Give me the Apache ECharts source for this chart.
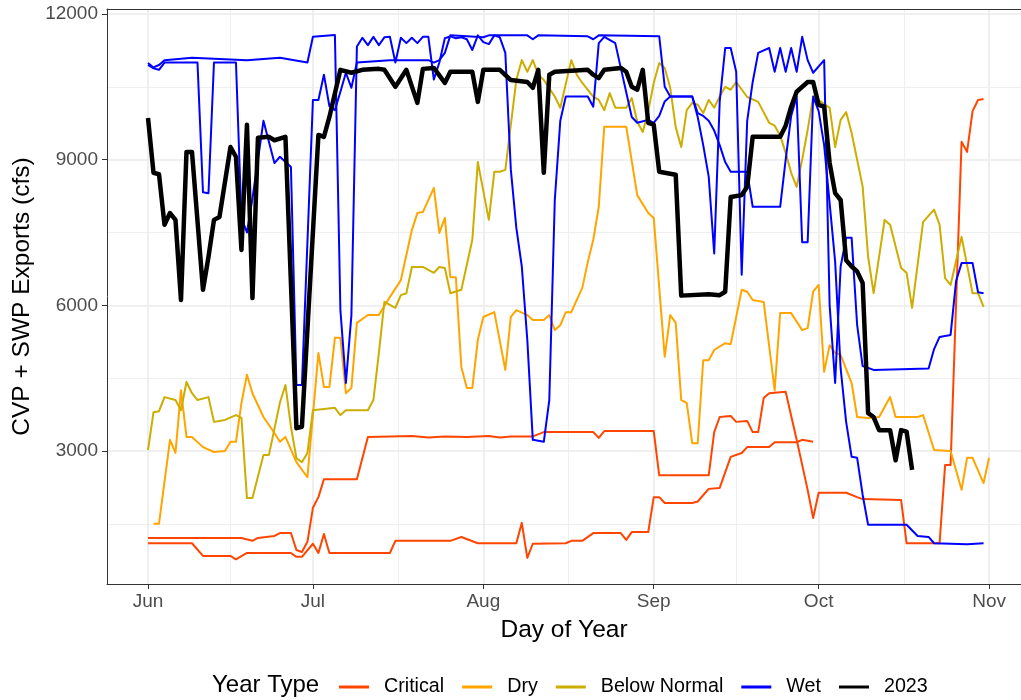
<!DOCTYPE html>
<html><head><meta charset="utf-8">
<script src="https://cdn.jsdelivr.net/npm/echarts@6/dist/echarts.min.js"></script>
<style>html,body{margin:0;padding:0;background:#fff}#c{width:1021px;height:700px}</style>
</head><body><div id="c"></div>
<script>
const monthTicks = [152,182,213,244,274,305];
const monthLabels = ['Jun','Jul','Aug','Sep','Oct','Nov'];
const monthMinor = [167,197.5,228.5,259,289.5];
const yTicks = [3000,6000,9000,12000];
const yMinor = [1500,4500,7500,10500];
const yearTypes = ['Critical','Dry','Below Normal','Wet','2023'];
const typeColors = ['#FF4500','#FFA500','#CDAD00','#0000FF','#000000'];

const critical1 = [[152,1210],[169,1210],[171,1150],[172,1210],[175,1250],[176,1310],[178,1310],[179,960],[180,920],[181,1130],[182,1830],[183,2050],[184,2420],[190,2420],[192,3290],[196,3300],[200,3310],[203,3280],[206,3300],[210,3290],[214,3310],[216,3280],[218,3300],[222,3300],[224,3390],[233,3390],[234,3270],[235,3410],[244,3410],[245,2500],[254,2500],[255,3390],[256,3700],[258,3720],[259,3600],[261,3620],[262,3390],[263,3390],[264,4090],[265,4190],[268,4220],[270,3230],[272,2200],[273,1620],[274,2140],[279,2140],[281,2050],[282,2010],[289,1990],[290,1100],[296,1100],[297,2710],[298,2710],[299,6040],[300,9370],[301,9160],[302,10000],[303,10230],[304,10250]];
const critical2 = [[152,1100],[160,1100],[162,840],[167,840],[168,770],[170,900],[178,900],[179,820],[180,820],[182,1090],[183,900],[184,1290],[185,900],[196,900],[197,1150],[207,1150],[209,1230],[212,1100],[219,1100],[220,1520],[221,800],[222,1090],[228,1100],[229,1150],[231,1150],[233,1310],[238,1310],[239,1170],[240,1330],[243,1330],[244,2050],[245,2050],[246,1930],[251,1930],[252,1960],[254,2220],[256,2240],[258,2880],[260,2960],[261,3080],[265,3080],[266,3180],[270,3180],[271,3230],[273,3190]];
const dry1 = [[153,1500],[154,1500],[156,3230],[157,2960],[158,4250],[159,3290],[160,3290],[162,3080],[164,2980],[166,3000],[167,3190],[168,3190],[169,3990],[170,4570],[171,4190],[173,3700],[175,3370],[176,3190],[177,3290],[179,2770],[181,2460],[183,5020],[184,4320],[185,4320],[186,5330],[187,5330],[188,4190],[189,4300],[190,5640],[192,5800],[194,5800],[196,6170],[198,6520],[200,7550],[201,7900],[202,7920],[204,8420],[205,7490],[206,7800],[207,6580],[208,6580],[209,4730],[210,4300],[211,4300],[212,5290],[213,5760],[215,5860],[217,4670],[218,5760],[219,5900],[221,5800],[222,5700],[224,5700],[225,5800],[226,5490],[227,5590],[228,5860],[229,5860],[231,6360],[232,6890],[233,7350],[234,8030],[235,9680],[239,9680],[241,8270],[243,7900],[244,7800],[246,4940],[247,5800],[248,5640],[249,4050],[250,3990],[251,3160],[252,3160],[253,4870],[254,4870],[255,5080],[257,5220],[258,5200],[260,6320],[261,6280],[262,6110],[264,6070],[266,4250],[267,5840],[269,5840],[271,5490],[272,5530],[273,6280],[274,6420],[275,4630],[276,5180],[277,5020],[278,4980],[280,4400],[281,3700],[283,3680],[285,3700],[287,4110],[288,3700],[292,3700],[293,3740],[295,3020],[298,3000],[300,2200],[301,2860],[302,2860],[304,2340],[305,2860]];
const belowNormal1 = [[152,3020],[153,3800],[154,3820],[155,4110],[157,4050],[158,3840],[159,4420],[160,4190],[161,4050],[163,4110],[164,3600],[166,3640],[168,3740],[169,3680],[170,2030],[171,2030],[173,2920],[174,2920],[176,4000],[177,4360],[178,3500],[179,2850],[180,2770],[181,2960],[182,3840],[186,3890],[187,3740],[188,3840],[192,3840],[193,4050],[194,5020],[195,6070],[196,6010],[197,5950],[198,6210],[199,6250],[200,6790],[202,6790],[204,6670],[205,6790],[206,6770],[207,6250],[209,6320],[211,7350],[212,8950],[214,7760],[215,8750],[216,8750],[217,8790],[219,10640],[220,11050],[221,10810],[222,11050],[223,10750],[224,10640],[226,10300],[227,10070],[229,11050],[230,10750],[231,10580],[233,10300],[234,10230],[235,10020],[236,10370],[237,10070],[239,10070],[240,10270],[241,9780],[242,9570],[243,10000],[244,10580],[245,10990],[246,10890],[247,10480],[248,9670],[249,9260],[250,10020],[251,10170],[252,10130],[253,9960],[254,10230],[255,10070],[256,10300],[257,10500],[258,10440],[259,10600],[261,10290],[263,10190],[265,9760],[266,9700],[267,9500],[268,9140],[269,8730],[270,8440],[271,9000],[272,9610],[273,10300],[275,10150],[276,10070],[277,9260],[278,9820],[279,9980],[280,9550],[282,8450],[283,7000],[284,6250],[286,7760],[287,7660],[289,6770],[290,6670],[291,5950],[293,7720],[295,7970],[296,7660],[297,6560],[298,6420],[300,7410],[302,6250],[303,6250],[304,5970]];
const wet1 = [[152,10990],[153,10900],[154,10950],[155,11050],[160,11100],[170,11050],[176,11100],[181,11000],[182,11530],[186,11570],[187,5900],[188,4400],[189,5800],[190,11330],[191,11510],[192,11360],[193,11530],[194,11360],[195,11520],[196,11530],[197,11000],[198,11510],[199,11400],[200,11510],[201,11400],[202,11530],[203,11530],[204,10650],[205,11000],[206,11500],[207,11540],[208,11500],[209,11520],[210,11480],[211,11260],[212,11560],[213,11420],[214,11380],[215,11560],[216,11520],[217,11200],[218,8800],[219,7600],[220,6800],[221,5290],[222,3230],[224,3190],[225,4050],[226,8170],[227,9800],[228,10300],[232,10300],[233,10090],[234,11400],[235,11530],[237,11400],[240,9880],[241,9760],[243,9820],[244,9760],[245,9900],[246,10200],[247,10300],[251,10300],[252,9960],[253,9900],[254,9800],[255,9600],[256,9300],[257,8950],[258,8750],[261,8750],[262,8030],[267,8030],[268,9000],[269,9900],[270,10300],[271,7300],[272,7300],[273,10300],[274,10000],[275,9300],[276,8100],[277,6900],[278,4700],[279,3600],[280,2880],[281,2860],[282,2100],[283,1480],[290,1480],[292,1250],[294,1230],[295,1100],[301,1080],[304,1100]];
const wet2 = [[152,10950],[153,10880],[154,10850],[155,11000],[161,11000],[162,8330],[163,8310],[164,11000],[168,11000],[169,7800],[170,7500],[171,8200],[173,9800],[175,8930],[176,9060],[178,8850],[179,4360],[180,4360],[182,10230],[183,10230],[184,10750],[185,10100],[186,10020],[187,10400],[188,10790],[189,10480],[190,11000],[196,11050],[203,11050],[204,11000],[205,11050],[206,11200],[207,11560],[213,11520],[214,11560],[221,11560],[222,11480],[223,11560],[232,11540],[233,11480],[234,11560],[245,11540],[246,10500],[247,10300],[251,10300],[252,9880],[253,9300],[254,8650],[255,7070],[256,10200],[257,11300],[258,11300],[259,10810],[260,6630],[261,9800],[262,10600],[263,11200],[265,11300],[266,10810],[267,11300],[268,10810],[269,11300],[270,10810],[271,11530],[272,11050],[273,10790],[275,11050],[276,6000],[277,4400],[278,6800],[279,7390],[280,7390],[281,5600],[282,4750],[284,4670],[294,4700],[295,5100],[296,5350],[298,5390],[299,6500],[300,6870],[302,6870],[303,6270],[304,6250]];
const year2023 = [[152,9860],[153,8730],[154,8700],[155,7660],[156,7900],[157,7760],[158,6110],[159,9160],[160,9160],[162,6320],[163,7000],[164,7760],[165,7820],[167,9260],[168,9060],[169,7140],[170,9720],[171,6150],[172,9450],[174,9470],[175,9400],[177,9470],[179,3470],[180,3500],[183,9510],[184,9470],[185,9880],[187,10850],[189,10790],[191,10850],[194,10870],[195,10850],[197,10500],[199,10850],[201,10170],[202,10870],[204,10890],[206,10580],[207,10810],[211,10810],[212,10190],[213,10850],[216,10850],[218,10640],[221,10600],[222,10480],[223,10850],[224,8730],[225,10750],[226,10810],[232,10850],[233,10750],[234,10680],[235,10850],[238,10890],[239,10810],[240,10500],[241,10440],[242,10850],[243,9760],[244,9720],[245,8750],[248,8690],[249,6200],[254,6230],[256,6210],[257,6280],[258,8230],[260,8270],[261,8440],[262,9470],[267,9470],[268,9700],[269,10090],[270,10400],[272,10600],[273,10600],[274,10130],[275,10090],[276,8930],[277,8310],[278,8170],[279,6930],[280,6800],[281,6700],[282,6460],[283,3780],[284,3700],[285,3430],[287,3430],[288,2810],[289,3430],[290,3400],[291,2610]];

const FONT = "'Liberation Sans', Arial, sans-serif";
function lineSeries(name, data, color, width, z) {
  return {type:'line', name, data, showSymbol:false, symbol:'none', silent:true, z,
    lineStyle:{color, width, join:'round'}, itemStyle:{color}, clip:true, animation:false};
}
const series = [
  lineSeries('Critical', critical1, typeColors[0], 2, 2),
  lineSeries('Critical', critical2, typeColors[0], 2, 2),
  lineSeries('Dry', dry1, typeColors[1], 2, 3),
  lineSeries('Below Normal', belowNormal1, typeColors[2], 2, 4),
  lineSeries('Wet', wet1, typeColors[3], 2, 5),
  lineSeries('Wet', wet2, typeColors[3], 2, 5),
  lineSeries('2023', year2023, typeColors[4], 4.5, 10)
];
const gridLeft = 107, gridTop = 9, gridW = 914, gridH = 575;
const xMin = 144.54, xMax = 310.81, yMin = 261, yMax = 12103;
const frame = {show:true, onZero:false, lineStyle:{color:'#333333', width:1}};
const chart = echarts.init(document.getElementById('c'), null, {renderer:'canvas'});
chart.setOption({
  backgroundColor:'#ffffff',
  animation:false,
  textStyle:{fontFamily:FONT},
  grid:{left:gridLeft, top:gridTop, width:gridW, height:gridH, show:false, containLabel:false},
  xAxis:[{
    type:'value', min:xMin, max:xMax, position:'bottom',
    axisLine:frame,
    axisTick:{show:true, customValues:monthTicks, length:5, lineStyle:{color:'#333333', width:1}},
    axisLabel:{customValues:monthTicks, formatter:v=>{const i=monthTicks.indexOf(v);return i>=0?monthLabels[i]:'';}, color:'#4D4D4D', fontSize:19, margin:8, fontFamily:FONT},
    splitLine:{show:true, lineStyle:{color:'#EBEBEB', width:1.6}},
    name:'Day of Year', nameLocation:'middle', nameGap:34, nameTextStyle:{fontSize:24.5, color:'#000', fontFamily:FONT}
  },{
    type:'value', min:xMin, max:xMax, position:'top',
    axisLine:frame, axisTick:{show:false, customValues:monthMinor}, axisLabel:{show:false, customValues:monthMinor},
    splitLine:{show:true, lineStyle:{color:'#EBEBEB', width:0.8}}
  }],
  yAxis:[{
    type:'value', min:yMin, max:yMax, position:'left',
    axisLine:frame,
    axisTick:{show:true, customValues:yTicks, length:5, lineStyle:{color:'#333333', width:1}},
    axisLabel:{customValues:yTicks, formatter:v=>String(v), color:'#4D4D4D', fontSize:19, margin:9, fontFamily:FONT},
    splitLine:{show:true, lineStyle:{color:'#EBEBEB', width:1.6}},
    name:'CVP + SWP Exports (cfs)', nameLocation:'middle', nameGap:70, nameTextStyle:{fontSize:24.5, color:'#000', fontFamily:FONT}
  },{
    type:'value', min:yMin, max:yMax, position:'right',
    axisLine:{show:false}, axisTick:{show:false, customValues:yMinor}, axisLabel:{show:false, customValues:yMinor},
    splitLine:{show:true, lineStyle:{color:'#EBEBEB', width:0.8}}
  }],
  legend:{data:yearTypes, left:334, top:672, icon:'rect', itemWidth:30, itemHeight:3, itemGap:18,
    textStyle:{fontSize:19.7, color:'#000', fontFamily:FONT, padding:[0,0,0,10]}},
  graphic:[{type:'text', left:212, top:673, silent:true, style:{text:'Year Type', fill:'#000', font:"24px 'Liberation Sans', Arial, sans-serif"}}],
  series
});
</script></body></html>
